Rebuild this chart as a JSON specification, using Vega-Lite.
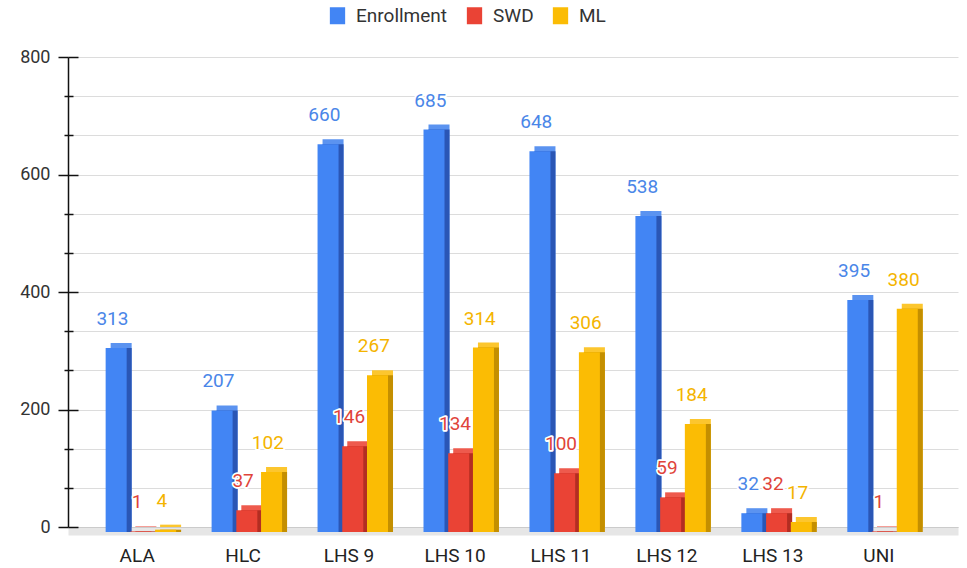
{
  "$schema": "https://vega.github.io/schema/vega-lite/v6.json",
  "width": 890,
  "height": 470,
  "autosize": "none",
  "padding": {"left": 68, "top": 57, "right": 9, "bottom": 41},
  "background": "white",
  "config": {"view": {"stroke": null}, "font": "Roboto"},
  "data": {
    "values": [
      {"school": "ALA", "series": "Enrollment", "value": 313},
      {"school": "ALA", "series": "SWD", "value": 1},
      {"school": "ALA", "series": "ML", "value": 4},
      {"school": "HLC", "series": "Enrollment", "value": 207},
      {"school": "HLC", "series": "SWD", "value": 37},
      {"school": "HLC", "series": "ML", "value": 102},
      {"school": "LHS 9", "series": "Enrollment", "value": 660},
      {"school": "LHS 9", "series": "SWD", "value": 146},
      {"school": "LHS 9", "series": "ML", "value": 267},
      {"school": "LHS 10", "series": "Enrollment", "value": 685},
      {"school": "LHS 10", "series": "SWD", "value": 134},
      {"school": "LHS 10", "series": "ML", "value": 314},
      {"school": "LHS 11", "series": "Enrollment", "value": 648},
      {"school": "LHS 11", "series": "SWD", "value": 100},
      {"school": "LHS 11", "series": "ML", "value": 306},
      {"school": "LHS 12", "series": "Enrollment", "value": 538},
      {"school": "LHS 12", "series": "SWD", "value": 59},
      {"school": "LHS 12", "series": "ML", "value": 184},
      {"school": "LHS 13", "series": "Enrollment", "value": 32},
      {"school": "LHS 13", "series": "SWD", "value": 32},
      {"school": "LHS 13", "series": "ML", "value": 17},
      {"school": "UNI", "series": "Enrollment", "value": 395},
      {"school": "UNI", "series": "SWD", "value": 1},
      {"school": "UNI", "series": "ML", "value": 380}
    ]
  },
  "encoding": {
    "x": {
      "field": "school",
      "type": "nominal",
      "sort": ["ALA", "HLC", "LHS 9", "LHS 10", "LHS 11", "LHS 12", "LHS 13", "UNI"],
      "scale": {"paddingInner": 0.3, "paddingOuter": 0.35},
      "axis": {
        "title": null,
        "labelAngle": 0,
        "labelFont": "Roboto",
        "labelFontSize": 19,
        "labelColor": "#222222",
        "labelPadding": 15,
        "labelOffset": -5,
        "ticks": false,
        "domainColor": "#e6e6e6",
        "domainWidth": 8,
        "offset": 4,
        "zindex": 0
      }
    }
  },
  "layer": [
    {
      "mark": {"type": "bar", "width": {"band": 0.85}},
      "encoding": {
        "y": {
          "field": "value",
          "type": "quantitative",
          "scale": {"domain": [0, 800], "nice": false},
          "axis": {
            "title": null,
            "values": [0, 66.6667, 133.3333, 200, 266.6667, 333.3333, 400, 466.6667, 533.3333, 600, 666.6667, 733.3333, 800],
            "labelExpr": "datum.value % 200 === 0 ? datum.label : ''",
            "labelFont": "Roboto",
            "labelFontSize": 18,
            "labelColor": "#333333",
            "labelPadding": 8,
            "grid": true,
            "gridColor": {"condition": {"test": "datum.value === 0", "value": "#b0b0b0"}, "value": "#dcdcdc"},
            "tickColor": "#111111",
            "tickWidth": 1.5,
            "tickSize": {"condition": {"test": "datum.value % 200 === 0", "value": 10}, "value": 4},
            "domainColor": "#111111",
            "domainWidth": 1.5,
            "zindex": 0
          }
        },
        "xOffset": {"field": "series", "sort": ["Enrollment", "SWD", "ML"], "scale": {"range": [0, 74.17], "paddingInner": 0, "paddingOuter": 0}},
        "color": {"field": "series", "sort": ["Enrollment", "SWD", "ML"], "scale": {"domain": ["Enrollment", "SWD", "ML"], "range": ["#5b93f0", "#ee5a4d", "#fcc62e"]}, "legend": null}
      }
    },
    {
      "mark": {"type": "bar", "width": {"band": 0.85}, "yOffset": 5, "y2Offset": 5},
      "encoding": {
        "y": {
          "field": "value",
          "type": "quantitative",
          "axis": {
            "orient": "left",
            "offset": -10,
            "title": null,
            "values": [0, 200, 400, 600, 800],
            "labels": false,
            "domain": false,
            "grid": false,
            "tickSize": 10,
            "tickWidth": 1.5,
            "tickColor": "#111111"
          }
        },
        "xOffset": {"field": "series", "sort": ["Enrollment", "SWD", "ML"], "scale": {"range": [0, 74.17], "paddingInner": 0, "paddingOuter": 0}},
        "color": {"field": "series", "sort": ["Enrollment", "SWD", "ML"], "scale": {"domain": ["Enrollment", "SWD", "ML"], "range": ["#2a56b5", "#b32d22", "#c48f00"]}, "legend": null}
      }
    },
    {
      "mark": {"type": "bar", "width": {"band": 0.85}, "yOffset": 5, "y2Offset": 5},
      "encoding": {
        "y": {
          "field": "value",
          "type": "quantitative",
          "axis": {
            "orient": "left",
            "offset": -5,
            "title": null,
            "values": [66.6667, 133.3333, 266.6667, 333.3333, 466.6667, 533.3333, 666.6667, 733.3333],
            "labels": false,
            "domain": false,
            "grid": false,
            "tickSize": 5,
            "tickWidth": 1.5,
            "tickColor": "#111111"
          }
        },
        "xOffset": {"field": "series", "sort": ["Enrollment", "SWD", "ML"], "scale": {"range": [-5, 69.17], "paddingInner": 0, "paddingOuter": 0}},
        "color": {
          "field": "series",
          "sort": ["Enrollment", "SWD", "ML"],
          "scale": {"domain": ["Enrollment", "SWD", "ML"], "range": ["#4285f4", "#ea4335", "#fbbc04"]},
          "legend": {
            "title": null,
            "orient": "none",
            "legendX": 260,
            "legendY": -51,
            "direction": "horizontal",
            "symbolType": "M-0.9,-1H0.9V1H-0.9Z",
            "symbolSize": 289,
            "symbolStrokeWidth": 0,
            "symbolOpacity": 1,
            "labelFont": "Roboto",
            "labelFontSize": 19,
            "labelColor": "#333333",
            "labelOffset": 9,
            "columnPadding": 17
          }
        }
      }
    },
    {
      "mark": {"type": "text", "font": "Roboto", "fontSize": 19, "baseline": "middle", "dy": -24, "fill": "white", "stroke": "white", "strokeWidth": 3.5, "strokeJoin": "round"},
      "encoding": {
        "y": {"field": "value", "type": "quantitative", "axis": null},
        "xOffset": {"field": "series", "sort": ["Enrollment", "SWD", "ML"], "scale": {"type": "point", "range": [7.36, 56.8], "padding": 0}},
        "text": {"field": "value", "type": "quantitative"}
      }
    },
    {
      "mark": {"type": "text", "font": "Roboto", "fontSize": 19, "baseline": "middle", "dy": -24},
      "encoding": {
        "y": {"field": "value", "type": "quantitative", "axis": null},
        "xOffset": {"field": "series", "sort": ["Enrollment", "SWD", "ML"], "scale": {"type": "point", "range": [7.36, 56.8], "padding": 0}},
        "text": {"field": "value", "type": "quantitative"},
        "color": {"field": "series", "sort": ["Enrollment", "SWD", "ML"], "scale": {"domain": ["Enrollment", "SWD", "ML"], "range": ["#4a86e8", "#e0443a", "#f4b400"]}, "legend": null}
      }
    }
  ],
  "resolve": {"scale": {"color": "independent", "xOffset": "independent"}, "axis": {"y": "independent"}}
}
